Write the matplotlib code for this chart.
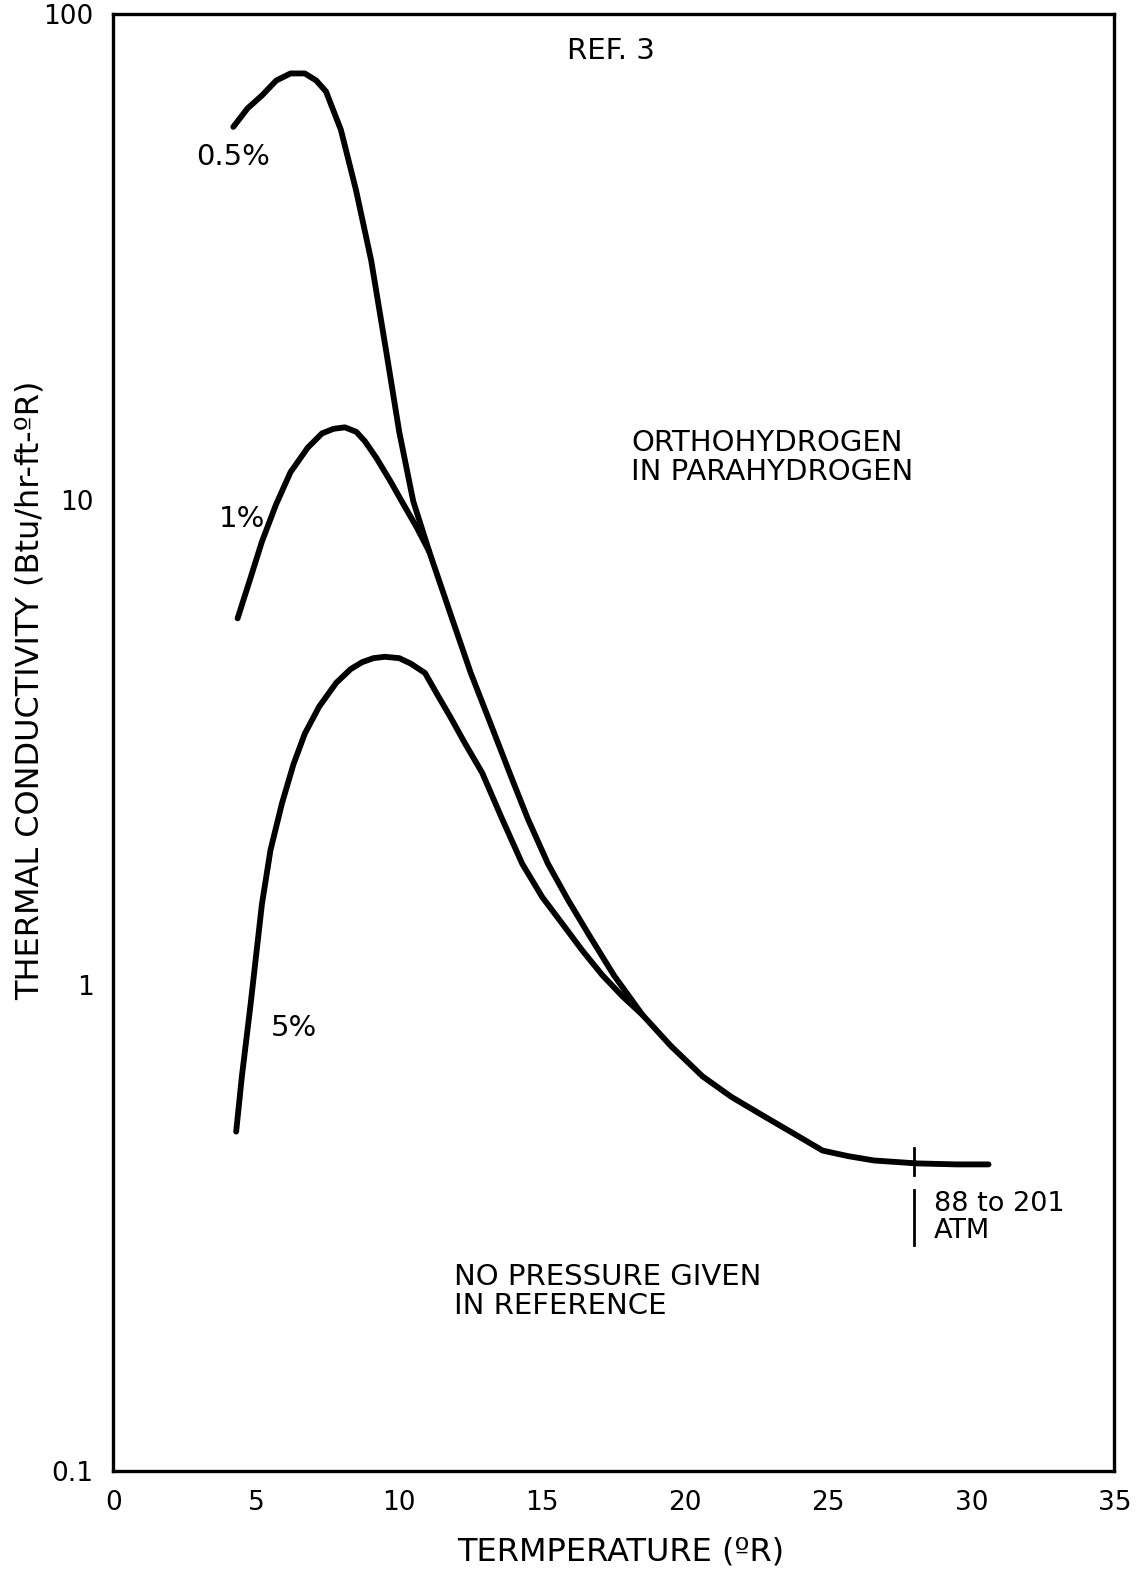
import matplotlib.pyplot as plt


# curves (temperature in oR, conductivity in Btu/hr-ft-oR)
t_05 = [4.2, 4.7, 5.2, 5.7, 6.2, 6.7, 7.1, 7.44, 7.96, 8.49, 9.02, 9.54, 10.0, 10.49,
        11.05, 11.8, 12.5, 13.2, 13.9, 14.5, 15.2, 15.9, 16.6, 17.5, 18.5, 19.5,
        20.6, 21.6, 22.7, 23.8, 24.8, 25.7, 26.6, 28.1, 29.5, 30.6]
k_05 = [58.6, 64.0, 68.0, 73.0, 75.5, 75.5, 73.0, 69.3, 57.8, 43.4, 31.1, 20.3, 13.8, 9.93,
        7.82, 5.8, 4.4, 3.45, 2.7, 2.2, 1.78, 1.5, 1.28, 1.05, 0.87,
        0.75, 0.65, 0.59, 0.54, 0.495, 0.457, 0.445, 0.436, 0.43, 0.428, 0.428]

t_1 = [4.35, 4.8, 5.2, 5.7, 6.2, 6.8, 7.3, 7.7, 8.1, 8.5, 8.8, 9.2, 9.7, 10.1, 10.6, 11.05]
k_1 = [5.7, 6.9, 8.2, 9.8, 11.4, 12.8, 13.7, 14.0, 14.1, 13.8, 13.2, 12.2, 10.9, 9.9, 8.8, 7.82]

t_5 = [4.3, 4.5, 4.8, 5.2, 5.5, 5.9, 6.3, 6.7, 7.2, 7.8, 8.3, 8.7, 9.1, 9.5, 10.0,
       10.4, 10.9, 11.3, 11.8, 12.3, 12.9, 13.6, 14.3, 15.0, 15.7, 16.4, 17.1, 17.8, 18.5]
k_5 = [0.50, 0.65, 0.91, 1.47, 1.9, 2.37, 2.85, 3.3, 3.75, 4.2, 4.48, 4.63, 4.72, 4.75, 4.72,
       4.6, 4.4, 4.0, 3.56, 3.15, 2.74, 2.2, 1.78, 1.52, 1.34, 1.18, 1.05, 0.95, 0.87]

x_ticks = [0, 5, 10, 15, 20, 25, 30, 35]
y_ticks = [0.1, 1, 10, 100]
y_tick_labels = ['0.1', '1', '10', '100']

plt.rcParams['font.family'] = ['DejaVu Sans']

fig = plt.figure(figsize=(11.43, 15.75), dpi=100)
ax = fig.add_axes([0.099, 0.066, 0.876, 0.925])

lw = 4.2
for t, k in [(t_05, k_05), (t_1, k_1), (t_5, k_5)]:
    ax.plot(t, k, color='black', lw=lw, solid_capstyle='round', solid_joinstyle='round')

ax.set_yscale('log')
ax.set_xlim(0, 35)
ax.set_ylim(0.1, 100)
ax.set_xticks(x_ticks)
ax.set_xticklabels([str(v) for v in x_ticks])
ax.set_yticks(y_ticks)
ax.set_yticklabels(y_tick_labels)
ax.minorticks_off()
ax.tick_params(length=0, labelsize=19, pad=14)
for s in ax.spines.values():
    s.set_linewidth(2.4)

# pressure marker near the end of the curve
ax.plot([28, 28], [0.407, 0.462], color='black', lw=2)
ax.plot([28, 28], [0.292, 0.379], color='black', lw=2)

fs = 21
ax.text(17.4, 84, 'REF. 3', fontsize=fs, ha='center', va='center')
ax.text(18.1, 12.2, 'ORTHOHYDROGEN\nIN PARAHYDROGEN', fontsize=fs, ha='left', va='center',
        linespacing=1.05)
ax.text(11.9, 0.234, 'NO PRESSURE GIVEN\nIN REFERENCE', fontsize=fs, ha='left', va='center',
        linespacing=1.05)
ax.text(28.7, 0.333, '88 to 201\nATM', fontsize=19.5, ha='left', va='center', linespacing=1.05)
ax.text(2.9, 50.8, '0.5%', fontsize=fs, ha='left', va='center')
ax.text(3.7, 9.15, '1%', fontsize=fs, ha='left', va='center')
ax.text(5.5, 0.818, '5%', fontsize=fs, ha='left', va='center')

fig.text(621 / 1143, 1 - 1552 / 1575, 'TERMPERATURE (ºR)', fontsize=23,
         ha='center', va='center')
fig.text(30 / 1143, 1 - 690 / 1575, 'THERMAL CONDUCTIVITY (Btu/hr-ft-ºR)', fontsize=23,
         rotation=90, ha='center', va='center')

fig.savefig('out.png', dpi=100)
